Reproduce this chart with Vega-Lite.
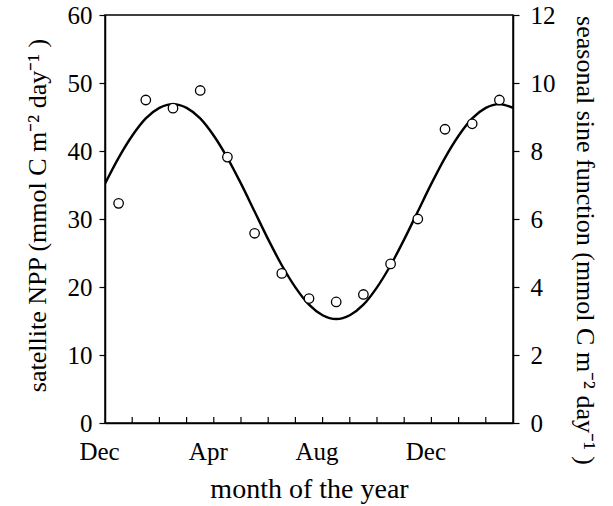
{
  "$schema": "https://vega.github.io/schema/vega-lite/v6.json",
  "width": 408,
  "height": 408,
  "autosize": {"type": "none"},
  "padding": {"left": 105, "top": 15, "right": 100, "bottom": 83},
  "background": "white",
  "config": {
    "view": {"stroke": "black", "strokeWidth": 1.5},
    "font": "Liberation Serif",
    "axis": {
      "grid": false,
      "domainColor": "black",
      "domainWidth": 1.5,
      "tickColor": "black",
      "tickWidth": 1.2,
      "labelFont": "Liberation Serif",
      "titleFont": "Liberation Serif",
      "labelColor": "black",
      "titleColor": "black",
      "labelFontSize": 25,
      "titleFontSize": 28,
      "titleFontWeight": "normal"
    }
  },
  "datasets": {
    "npp": [
      {"month": 0.5, "npp": 32.3},
      {"month": 1.5, "npp": 47.5},
      {"month": 2.5, "npp": 46.3},
      {"month": 3.5, "npp": 48.9},
      {"month": 4.5, "npp": 39.1},
      {"month": 5.5, "npp": 27.9},
      {"month": 6.5, "npp": 22.0},
      {"month": 7.5, "npp": 18.3},
      {"month": 8.5, "npp": 17.8},
      {"month": 9.5, "npp": 18.9},
      {"month": 10.5, "npp": 23.4},
      {"month": 11.5, "npp": 30.0},
      {"month": 12.5, "npp": 43.2},
      {"month": 13.5, "npp": 44.0},
      {"month": 14.5, "npp": 47.5}
    ],
    "monthTicks": [
      {"month": 1}, {"month": 2}, {"month": 3}, {"month": 4}, {"month": 5},
      {"month": 6}, {"month": 7}, {"month": 8}, {"month": 9}, {"month": 10},
      {"month": 11}, {"month": 12}, {"month": 13}, {"month": 14}
    ],
    "sine": [
      {"month": 0, "fit": 7.04},
      {"month": 0.5, "fit": 7.80},
      {"month": 1, "fit": 8.45},
      {"month": 1.5, "fit": 8.96},
      {"month": 2, "fit": 9.27},
      {"month": 2.5, "fit": 9.38},
      {"month": 3, "fit": 9.27},
      {"month": 3.5, "fit": 8.96},
      {"month": 4, "fit": 8.45},
      {"month": 4.5, "fit": 7.80},
      {"month": 5, "fit": 7.04},
      {"month": 5.5, "fit": 6.22},
      {"month": 6, "fit": 5.40},
      {"month": 6.5, "fit": 4.64},
      {"month": 7, "fit": 3.99},
      {"month": 7.5, "fit": 3.48},
      {"month": 8, "fit": 3.17},
      {"month": 8.5, "fit": 3.06},
      {"month": 9, "fit": 3.17},
      {"month": 9.5, "fit": 3.48},
      {"month": 10, "fit": 3.99},
      {"month": 10.5, "fit": 4.64},
      {"month": 11, "fit": 5.40},
      {"month": 11.5, "fit": 6.22},
      {"month": 12, "fit": 7.04},
      {"month": 12.5, "fit": 7.80},
      {"month": 13, "fit": 8.45},
      {"month": 13.5, "fit": 8.96},
      {"month": 14, "fit": 9.27},
      {"month": 14.5, "fit": 9.38},
      {"month": 15, "fit": 9.27}
    ]
  },
  "layer": [
    {
      "data": {"name": "sine"},
      "mark": {"type": "line", "color": "black", "strokeWidth": 2.4, "interpolate": "monotone", "clip": true},
      "encoding": {
        "x": {
          "field": "month",
          "type": "quantitative",
          "scale": {"domain": [0, 15], "nice": false},
          "axis": {
            "values": [0, 4, 8, 12],
            "labelExpr": "datum.value == 0 ? 'Dec' : datum.value == 4 ? 'Apr' : datum.value == 8 ? 'Aug' : 'Dec'",
            "ticks": false,
            "labelFlush": false,
            "labelPadding": 16,
            "labelOffset": -6,
            "labelBaseline": "top",
            "title": "month of the year",
            "titleY": 74,
            "titleBaseline": "alphabetic"
          }
        },
        "y": {
          "field": "fit",
          "type": "quantitative",
          "scale": {"domain": [0, 12], "nice": false},
          "axis": {
            "orient": "right",
            "values": [0, 2, 4, 6, 8, 10, 12],
            "tickSize": 6,
            "labelPadding": 11,
            "title": "seasonal sine function (mmol C m⁻² day⁻¹ )",
            "titleFontSize": 26,
            "titleAngle": 90,
            "titleX": 71,
            "titleY": 225,
            "titleAlign": "center",
            "titleBaseline": "middle"
          }
        }
      }
    },
    {
      "layer": [
        {
          "data": {"name": "monthTicks"},
          "mark": {"type": "rule", "color": "black", "strokeWidth": 1.2},
          "encoding": {
            "x": {"field": "month", "type": "quantitative"},
            "y": {"datum": 0},
            "y2": {"datum": 0.9}
          }
        },
        {
          "data": {"name": "npp"},
          "mark": {"type": "point", "shape": "circle", "filled": true, "fill": "white", "stroke": "black", "strokeWidth": 1.3, "size": 90, "opacity": 1},
          "encoding": {
            "x": {"field": "month", "type": "quantitative"},
            "y": {
              "field": "npp",
              "type": "quantitative",
              "scale": {"domain": [0, 60], "nice": false},
              "axis": {
                "orient": "left",
                "values": [0, 10, 20, 30, 40, 50, 60],
                "tickSize": 6,
                "labelPadding": 7,
                "title": "satellite NPP (mmol C m⁻² day⁻¹ )",
                "titleFontSize": 26,
                "titleX": -68,
                "titleY": 200,
                "titleAlign": "center",
                "titleBaseline": "middle"
              }
            }
          }
        }
      ]
    }
  ],
  "resolve": {"scale": {"y": "independent"}}
}
